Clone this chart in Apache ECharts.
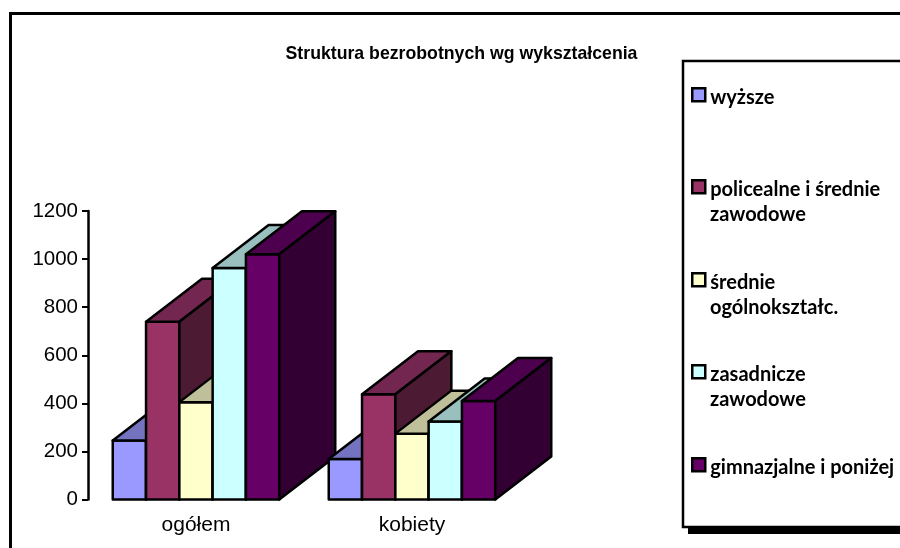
<!DOCTYPE html>
<html><head><meta charset="utf-8">
<style>html,body{margin:0;padding:0;background:#fff}#c{width:900px;height:548px}</style>
<script src="https://cdn.jsdelivr.net/npm/echarts@6/dist/echarts.min.js"></script>
</head><body><div id="c"></div>
<script>
const categories = ['ogółem', 'kobiety'];
const seriesNames = ['wyższe', 'policealne i średnie zawodowe', 'średnie ogólnokształc.', 'zasadnicze zawodowe', 'gimnazjalne i poniżej'];
const wyzsze = [245, 168];
const policealne = [739, 438];
const srednie = [405, 274];
const zasadnicze = [963, 324];
const gimnazjalne = [1020, 410];
const yTicks = [0, 200, 400, 600, 800, 1000, 1200];
const allValues = [wyzsze, policealne, srednie, zasadnicze, gimnazjalne];
const frontColors = ['#9999FF', '#993366', '#FFFFCC', '#CCFFFF', '#660066'];
const topColors = ['#7373BF', '#732650', '#BFBF99', '#99BFBF', '#4D004D'];
const sideColors = ['#4D4D80', '#4D1A33', '#808066', '#668080', '#330033'];
const legendLines = [['wyższe'], ['policealne i średnie', 'zawodowe'], ['średnie', 'ogólnokształc.'], ['zasadnicze', 'zawodowe'], ['gimnazjalne i poniżej']];
const legendCenters = [94, 186, 279, 371, 464];

const DX = 56, DY = 43, BAR = 33.3, LW = 2.5;
const chart = echarts.init(document.getElementById('c'), null, {renderer: 'canvas'});

function renderBar(s) {
  return function (params, api) {
    const cat = api.value(0);
    const base = api.coord([cat, 0]);
    const top = api.coord([cat, api.value(1)]);
    const x0 = base[0] + (s - 2.5) * BAR, x1 = x0 + BAR;
    const yb = base[1], yt = top[1];
    const line = {stroke: '#000', lineWidth: LW, lineJoin: 'round'};
    const z2 = cat * 10 + s;
    const poly = (pts, fill) => ({type: 'polygon', z2, shape: {points: pts}, style: Object.assign({fill}, line)});
    return {type: 'group', children: [
      poly([[x0, yb], [x1, yb], [x1, yt], [x0, yt]], frontColors[s]),
      poly([[x0, yt], [x1, yt], [x1 + DX, yt - DY], [x0 + DX, yt - DY]], topColors[s]),
      poly([[x1, yb], [x1 + DX, yb - DY], [x1 + DX, yt - DY], [x1, yt]], sideColors[s])
    ]};
  };
}

const option = {
  animation: false,
  backgroundColor: '#fff',
  title: {text: 'Struktura bezrobotnych wg wykształcenia', left: 456.5, top: 40, textAlign: 'center',
    textStyle: {fontFamily: '"Liberation Sans",Arial', fontSize: 17.7, fontWeight: 'bold', color: '#000'}},
  grid: {left: 88, top: 211, width: 432, height: 288.5, containLabel: false},
  xAxis: {type: 'category', data: categories, axisLine: {show: false}, axisTick: {show: false},
    axisLabel: {fontFamily: '"Liberation Sans",Arial', fontSize: 21, color: '#000', margin: 15}},
  yAxis: {type: 'value', min: 0, max: 1200, interval: 200, splitLine: {show: false},
    axisLine: {show: true, lineStyle: {color: '#000', width: 2.5}},
    axisTick: {show: true, length: 6, lineStyle: {color: '#000', width: 2}},
    axisLabel: {fontFamily: '"Liberation Sans",Arial', fontSize: 20.5, color: '#000', margin: 10,
      formatter: v => yTicks.includes(v) ? String(v) : ''}},
  legend: seriesNames.map((n, i) => ({
    left: 691, top: legendCenters[i] - 7, padding: 0, data: [n], icon: 'rect', itemWidth: 13, itemHeight: 13, itemGap: 0,
    selectedMode: false,
    itemStyle: {color: frontColors[i], borderColor: '#000', borderWidth: 2.5},
    formatter: () => '{a|' + legendLines[i][0] + '}',
    textStyle: {rich: {a: {fontFamily: 'Lato,"Open Sans"', fontWeight: 'bold', fontSize: 20, color: '#000', padding: [5, 0, 0, 0]}}}
  })),
  graphic: [
    {type: 'rect', silent: true, z: -1, shape: {x: 10.5, y: 13.5, width: 920, height: 560}, style: {fill: 'none', stroke: '#000', lineWidth: 3}},
    {type: 'rect', silent: true, z: -1, shape: {x: 688, y: 527, width: 240, height: 7}, style: {fill: '#000'}},
    {type: 'rect', silent: true, z: -1, shape: {x: 683, y: 61, width: 240, height: 466}, style: {fill: '#fff', stroke: '#000', lineWidth: 2.5}}
  ].concat(legendLines.flatMap((l, i) => l.slice(1).map(t => ({
    type: 'text', silent: true, x: 710, y: legendCenters[i] + 29, 
    style: {text: t, font: 'bold 20px Lato,"Open Sans"', fill: '#000', verticalAlign: 'middle'}
  })))),
  series: seriesNames.map((n, s) => ({
    type: 'custom', name: n, coordinateSystem: 'cartesian2d', clip: false,
    itemStyle: {color: frontColors[s]},
    encode: {x: 0, y: 1},
    data: categories.map((c, i) => [i, allValues[s][i]]),
    renderItem: renderBar(s)
  }))
};
chart.setOption(option);
</script></body></html>
